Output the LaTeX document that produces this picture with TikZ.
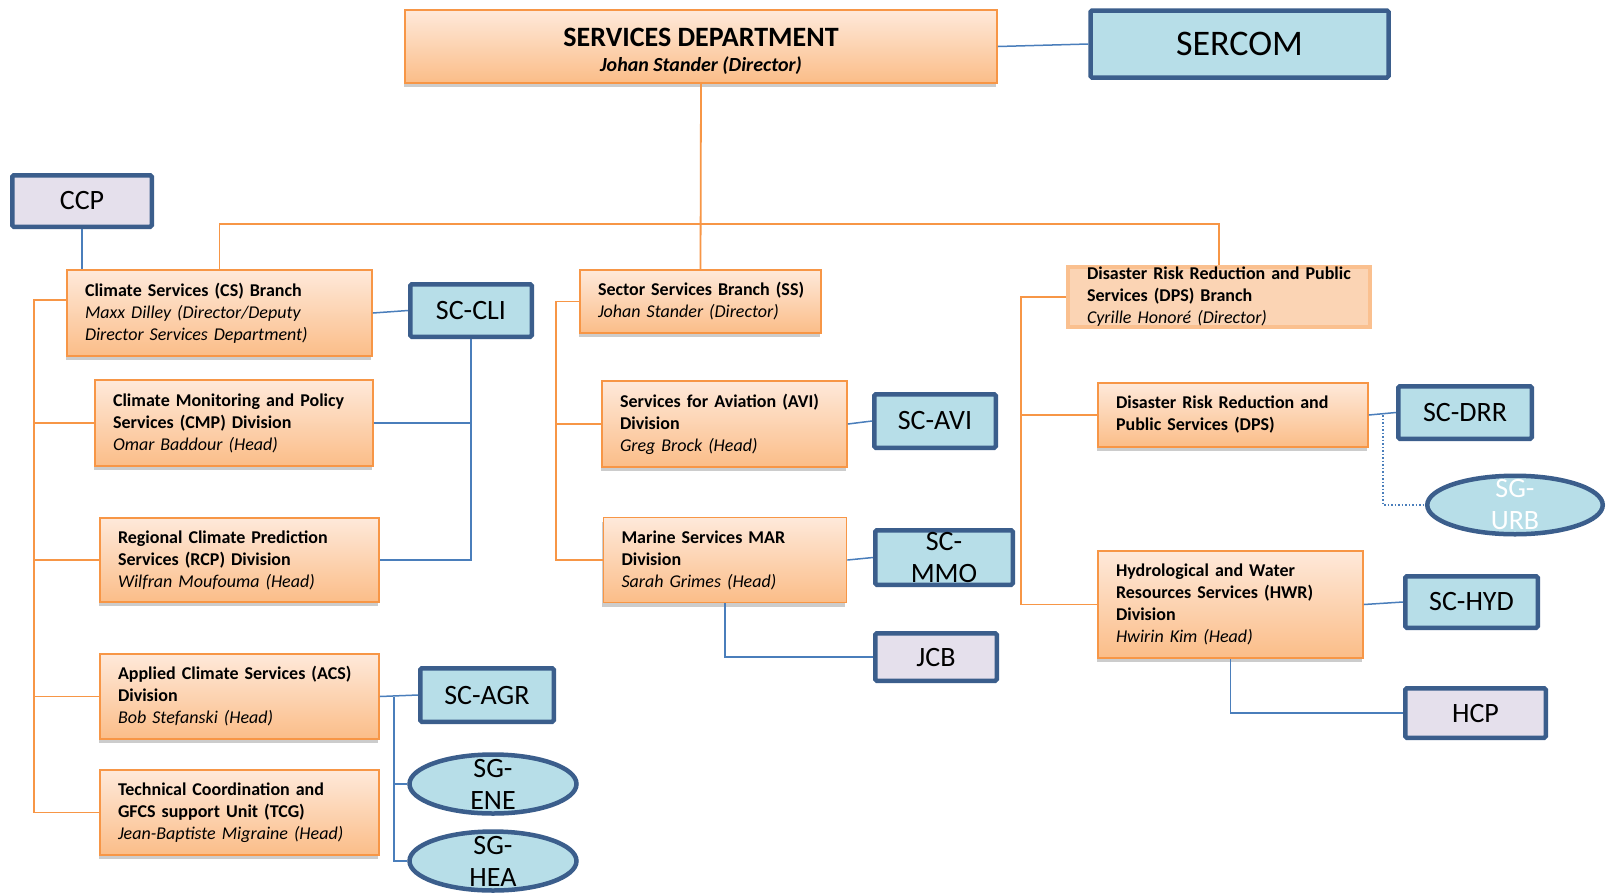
\documentclass[tikz,border=0pt]{standalone}
\usepackage{fontspec}
\setmainfont{Carlito}
\usepackage{xcolor}
\usepackage{tikz}
\usetikzlibrary{shapes,shadows,calc}

\definecolor{unitedge}{HTML}{F79646}
\definecolor{unittop}{HTML}{FEE9DA}
\definecolor{unitbottom}{HTML}{FBBD88}
\definecolor{branchfill}{HTML}{FBD4B4}
\definecolor{branchedge}{HTML}{FAC08F}
\definecolor{groupfill}{HTML}{B7DEE8}
\definecolor{panelfill}{HTML}{E5E0EC}
\definecolor{groupedge}{HTML}{3B5E8C}
\definecolor{linkblue}{HTML}{4A7EBB}

\begin{document}
\begin{tikzpicture}[x=1pt, y=-1pt,
    unit/.style={draw=unitedge, line width=1.8pt, top color=unittop, bottom color=unitbottom,
        drop shadow={shadow xshift=-1.5pt, shadow yshift=-4pt, opacity=0.4},
        inner xsep=18pt, inner ysep=1pt, align=left, font=\fontsize{18}{22}\selectfont},
    branch/.style={draw=branchedge, line width=4pt, fill=branchfill,
        inner xsep=19pt, inner ysep=0pt, align=left, font=\fontsize{18}{22}\selectfont},
    group/.style={draw=groupedge, line width=4.5pt, fill=groupfill, rounded corners=1.5pt,
        inner sep=0pt, font=\fontsize{28}{32}\selectfont},
    panel/.style={group, fill=panelfill},
    sg/.style={ellipse, draw=groupedge, line width=4.5pt, fill=groupfill, inner sep=0pt,
        minimum width=167pt, minimum height=59pt},
    twoline/.style={font=\fontsize{28}{32}\selectfont, align=center},
    orgline/.style={unitedge, line width=1.8pt},
    bluelink/.style={linkblue, line width=1.5pt}]

    \path[use as bounding box, fill=white] (0,0) rectangle (1612,892);

    % Department and committee
    \node[unit, align=center, minimum width=592pt, minimum height=73pt] (dept) at (701,46.5)
        {{\fontsize{28}{30}\selectfont\bfseries\rule{0pt}{27pt}SERVICES DEPARTMENT}\\[3pt]
         {\fontsize{20}{22}\selectfont\bfseries\itshape Johan Stander (Director)}};
    \node[group, minimum width=298pt, minimum height=67pt, font=\fontsize{36}{40}\selectfont] (sercom) at (1239.5,44) {SERCOM};

    % Climate Services branch
    \node[panel, minimum width=139.5pt, minimum height=51.5pt] (ccp) at (82,201) {CCP};
    \node[unit, text width=269pt, minimum height=86pt] (csb) at (219.5,313)
        {\textbf{Climate Services (CS) Branch}\\ \textit{Maxx Dilley (Director/Deputy}\\ \textit{Director Services Department)}};
    \node[group, minimum width=121.5pt, minimum height=52.5pt] (sccli) at (471,310.5) {SC-CLI};
    \node[unit, text width=242pt, minimum height=86pt] (cmp) at (234,423)
        {\textbf{Climate Monitoring and Policy}\\ \textbf{Services (CMP) Division}\\ \textit{Omar Baddour (Head)}};
    \node[unit, text width=243pt, minimum height=84pt] (rcp) at (239.5,560)
        {\textbf{Regional Climate Prediction}\\ \textbf{Services (RCP) Division}\\ \textit{Wilfran Moufouma (Head)}};
    \node[unit, text width=243pt, minimum height=85pt] (acs) at (239.5,696.5)
        {\textbf{Applied Climate Services (ACS)}\\ \textbf{Division}\\ \textit{Bob Stefanski (Head)}};
    \node[unit, text width=243pt, minimum height=85pt] (tcg) at (239.5,812.5)
        {\textbf{Technical Coordination and}\\ \textbf{GFCS support Unit (TCG)}\\ \textit{Jean-Baptiste Migraine (Head)}};
    \node[group, minimum width=133.5pt, minimum height=53.5pt] (scagr) at (487,695) {SC-AGR};
    \node[sg, label={[twoline]center:SG-\\ENE}] (sgene) at (493,784) {};
    \node[sg, label={[twoline]center:SG-\\HEA}] (sghea) at (493,861) {};

    % Sector Services branch
    \node[unit, text width=205pt, minimum height=63pt] (ssb) at (700.5,301.5)
        {\textbf{\mbox{Sector Services Branch (SS)}}\\ \textit{Johan Stander (Director)}};
    \node[unit, text width=209pt, minimum height=86pt] (avi) at (724.5,424)
        {\textbf{Services for Aviation (AVI)}\\ \textbf{Division}\\ \textit{Greg Brock (Head)}};
    \node[group, minimum width=121.5pt, minimum height=53.5pt] (scavi) at (935,421) {SC-AVI};
    \node[unit, text width=207pt, minimum height=85pt] (mar) at (725,560)
        {\textbf{Marine Services MAR}\\ \textbf{Division}\\ \textit{Sarah Grimes (Head)}};
    \node[group, minimum width=137.5pt, minimum height=54.5pt, label={[twoline]center:SC-\\MMO}] (scmmo) at (944,557.5) {};
    \node[panel, minimum width=121.5pt, minimum height=47.5pt] (jcb) at (936,657) {JCB};

    % Disaster Risk Reduction and Public Services branch
    \node[branch, text width=264pt, minimum height=60pt] (dpsb) at (1219,297)
        {\textbf{Disaster Risk Reduction and Public}\\ \textbf{Services (DPS) Branch}\\ \textit{Cyrille Honoré (Director)}};
    \node[unit, text width=234pt, minimum height=64pt] (dps) at (1233,415)
        {\textbf{Disaster Risk Reduction and}\\ \textbf{Public Services (DPS)}};
    \node[group, minimum width=133.5pt, minimum height=52.5pt] (scdrr) at (1465,412.5) {SC-DRR};
    \node[sg, minimum width=175.5pt, minimum height=58.5pt, label={[twoline, text=white]center:SG-\\URB}] (sgurb) at (1515,505) {};
    \node[unit, text width=229pt, minimum height=107pt] (hwr) at (1230.5,604.5)
        {\textbf{Hydrological and Water}\\ \textbf{Resources Services (HWR)}\\ \textbf{Division}\\ \textit{Hwirin Kim (Head)}};
    \node[group, minimum width=132.5pt, minimum height=51.5pt] (schyd) at (1471.5,602) {SC-HYD};
    \node[panel, minimum width=140.5pt, minimum height=49.5pt] (hcp) at (1475.5,713) {HCP};

    % Reporting lines
    \coordinate (bar) at (700,224);
    \coordinate (ltrunk) at (34,0);
    \coordinate (mtrunk) at (556,0);
    \coordinate (rtrunk) at (1021,0);
    \draw[orgline] (dept.south) -- (ssb.north);
    \draw[orgline] (csb.north) |- (bar) -| (dpsb.north);
    \draw[orgline] ([yshift=13pt]csb.west) -| (ltrunk |- tcg.west) -- (tcg.west);
    \foreach \u in {cmp,rcp,acs} \draw[orgline] (\u.west) -- (ltrunk |- \u.west);
    \draw[orgline] (ssb.west) -| (mtrunk |- mar.west) -- (mar.west);
    \draw[orgline] (avi.west) -- (mtrunk |- avi.west);
    \draw[orgline] (dpsb.west) -| (rtrunk |- hwr.west) -- (hwr.west);
    \draw[orgline] (dps.west) -- (rtrunk |- dps.west);

    % Links to committee bodies
    \coordinate (agrbus) at (394,0);
    \coordinate (urbbus) at (1383,0);
    \draw[bluelink] (dept.east) -- (sercom.west);
    \draw[bluelink] (ccp.south) -- (ccp.south |- csb.north);
    \draw[bluelink] (csb.east) -- (sccli.west);
    \draw[bluelink] (sccli.south) |- (rcp.east);
    \draw[bluelink] (cmp.east) -- (sccli.south |- cmp.east);
    \draw[bluelink] (acs.east) -- (scagr.west);
    \draw[bluelink] (agrbus |- acs.east) |- (sghea.west);
    \draw[bluelink] (agrbus |- sgene.west) -- (sgene.west);
    \draw[bluelink] (avi.east) -- (scavi.west);
    \draw[bluelink] (mar.east) -- (scmmo.west);
    \draw[bluelink] (mar.south) |- (jcb.west);
    \draw[bluelink] (dps.east) -- (scdrr.west);
    \draw[bluelink, dotted] (urbbus |- dps.east) |- (sgurb.west);
    \draw[bluelink] (hwr.east) -- (schyd.west);
    \draw[bluelink] (hwr.south) |- (hcp.west);
\end{tikzpicture}
\end{document}
